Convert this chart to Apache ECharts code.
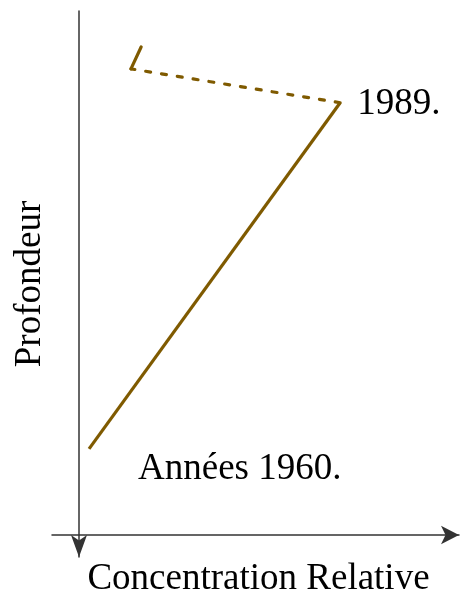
<!DOCTYPE html>
<html>
<head>
<meta charset="utf-8">
<script src="https://cdn.jsdelivr.net/npm/echarts@6/dist/echarts.min.js"></script>
<style>
  html, body { margin: 0; padding: 0; background: #fff; }
  #chart { width: 460px; height: 595px; }
</style>
</head>
<body>
<div id="chart"></div>
<script>
// Relative concentration (x, 0–100) against depth (y, 0–100, increasing downward)
const profile1960 = [[70.8, 16.8], [9.1, 80.2]];
const profile1989 = [[70.8, 16.8], [19.4, 10.6]];
const profile1989Top = [[19.4, 10.6], [21.9, 6.6]];
const seriesLabels = ['Années 1960.', '1989.'];
const axisNames = ['Concentration Relative', 'Profondeur'];

const BROWN = '#7f5a00';
const FONT = 'Liberation Serif, Times New Roman, serif';
const textStyle = { fontFamily: FONT, fontSize: 37, color: '#000' };

const chart = echarts.init(document.getElementById('chart'), null, { renderer: 'canvas' });

function withLabel(points, index, text, label) {
  return points.map((p, i) => i === index
    ? { value: p, label: Object.assign({ show: true, formatter: text }, textStyle, label) }
    : { value: p });
}

chart.setOption({
  animation: false,
  backgroundColor: '#fff',
  grid: { left: 52, right: 1, top: 11, bottom: 38, outerBoundsMode: 'none' },
  xAxis: {
    type: 'value', min: 0, max: 100,
    offset: -22,
    axisLine: { onZero: false, show: true, symbol: ['none', 'arrow'], symbolSize: [14, 18],
      lineStyle: { color: '#333', width: 1.5 } },
    axisTick: { show: false }, axisLabel: { show: false }, splitLine: { show: false },
    name: axisNames[0], nameLocation: 'middle', nameGap: 26,
    nameTextStyle: Object.assign({ padding: [0, 0, 0, 6] }, textStyle)
  },
  yAxis: {
    type: 'value', min: 0, max: 100, inverse: true,
    offset: -27,
    axisLine: { onZero: false, show: true, symbol: ['arrow', 'none'], symbolSize: [12, 22],
      lineStyle: { color: '#333', width: 1.5 } },
    axisTick: { show: false }, axisLabel: { show: false }, splitLine: { show: false },
    name: axisNames[1], nameLocation: 'middle', nameGap: 30,
    nameTextStyle: Object.assign({}, textStyle)
  },
  series: [
    {
      type: 'line', silent: true, symbol: 'circle', symbolSize: 0, showSymbol: true,
      lineStyle: { color: BROWN, width: 3.2 }, itemStyle: { color: BROWN },
      data: withLabel(profile1960, 1, seriesLabels[0], { position: [49, 20], align: 'left', verticalAlign: 'middle' })
    },
    {
      type: 'line', silent: true, symbol: 'circle', symbolSize: 0, showSymbol: true,
      lineStyle: { color: BROWN, width: 3.2, type: [5, 11], cap: 'round' }, itemStyle: { color: BROWN },
      data: withLabel(profile1989, 0, seriesLabels[1], { position: [17, 2], align: 'left', verticalAlign: 'middle' })
    },
    {
      type: 'line', silent: true, symbol: 'none',
      lineStyle: { color: BROWN, width: 3.2, cap: 'round', join: 'round' },
      data: profile1989Top
    }
  ]
});
</script>
</body>
</html>
